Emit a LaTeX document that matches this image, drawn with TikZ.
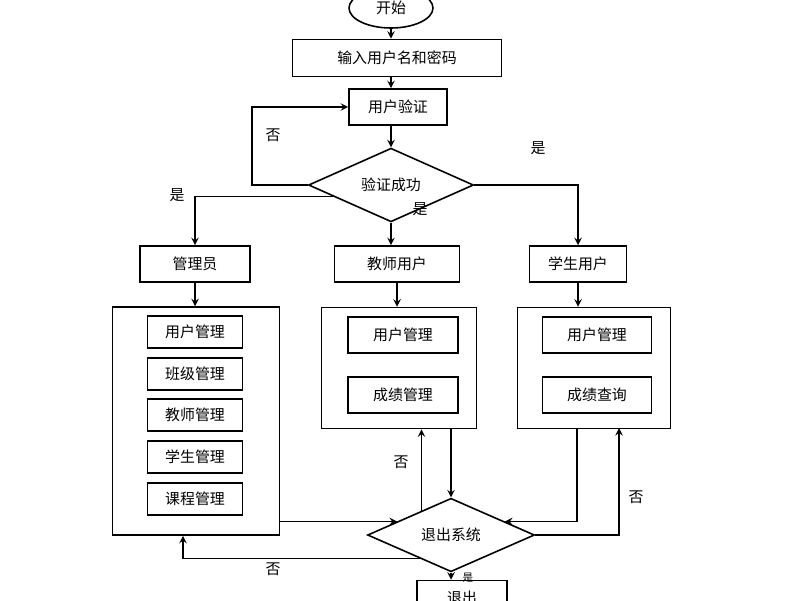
\documentclass[tikz,border=0pt]{standalone}
\usepackage{fontspec}
\setmainfont{Noto Sans CJK SC}
\usetikzlibrary{shapes.geometric, arrows, calc}
\tikzstyle{box} = [draw, rectangle, line width=0.9pt, inner sep=0pt, font=\fontsize{8.5}{10}\selectfont]
\tikzstyle{decision} = [draw, diamond, line width=0.9pt, inner sep=0pt, font=\fontsize{8.5}{10}\selectfont]
\tikzstyle{arrow} = [line width=0.9pt,->,>=stealth]
\tikzstyle{lbl} = [font=\fontsize{8.5}{10}\selectfont]

\begin{document}
\begin{tikzpicture}[x=0.02cm, y=-0.02cm, >=stealth]
            \useasboundingbox (0,0) rectangle (800,600);
            \node[draw, ellipse, line width=0.9pt, minimum width=1.68cm, minimum height=0.8cm, font=\fontsize{8.5}{10}\selectfont] (start) at (391,8) {开始};
            \node[box, minimum width=4.18cm, minimum height=0.74cm] (input) at (397,58) {输入用户名和密码};
            \node[box, minimum width=1.96cm, minimum height=0.72cm] (verify) at (398,107) {用户验证};
            \node[decision, minimum width=3.3cm, minimum height=1.44cm] (ok) at (391,185) {验证成功};
            
            \node[box, minimum width=2.2cm, minimum height=0.72cm] (admin) at (195,264) {管理员};
            \node[box, minimum width=2.5cm, minimum height=0.72cm] (teacher) at (397,264) {教师用户};
            \node[box, minimum width=1.94cm, minimum height=0.72cm] (student) at (578,264) {学生用户};
            
            \node[box, minimum width=3.34cm, minimum height=4.56cm] (adminbox) at (196,421) {};
            \node[box, minimum width=1.9cm, minimum height=0.64cm] (a1) at (195,332) {用户管理};
            \node[box, minimum width=1.9cm, minimum height=0.64cm] (a2) at (195,374) {班级管理};
            \node[box, minimum width=1.9cm, minimum height=0.64cm] (a3) at (195,415) {教师管理};
            \node[box, minimum width=1.9cm, minimum height=0.64cm] (a4) at (195,457) {学生管理};
            \node[box, minimum width=1.9cm, minimum height=0.64cm] (a5) at (195,499) {课程管理};
            
            \node[box, minimum width=3.1cm, minimum height=2.42cm] (teacherbox) at (399,368) {};
            \node[box, minimum width=2.2cm, minimum height=0.72cm] (t1) at (403,335) {用户管理};
            \node[box, minimum width=2.2cm, minimum height=0.72cm] (t2) at (403,395) {成绩管理};
            
            \node[box, minimum width=3.06cm, minimum height=2.42cm] (studentbox) at (594,368) {};
            \node[box, minimum width=2.18cm, minimum height=0.72cm] (s1) at (597,335) {用户管理};
            \node[box, minimum width=2.18cm, minimum height=0.72cm] (s2) at (597,395) {成绩查询};
            
            \node[decision, minimum width=3.34cm, minimum height=1.42cm] (quit) at (451,535) {退出系统};
            \node[box, minimum width=1.8cm, minimum height=0.7cm] (exit) at (462,598) {退出};
            
            \draw[arrow] (start.south) -- (start.south |- input.north);
            \draw[arrow] (input.south -| ok.north) -- (verify.north -| ok.north);
            \draw[arrow] (verify.south -| ok.north) -- (ok.north);
            \draw[arrow] (ok.west) -- (252,185) |- (verify.west);
            \node[lbl] at (273,135) {否};
            \coordinate (okl) at ($(ok.west)!0.3!(ok.south)$);
            \draw[arrow] (okl) -| (admin.north);
            \node[lbl] at (177,195) {是};
            \draw[arrow] (ok.south) -- (ok.south |- teacher.north);
            \node[lbl] at (420,209) {是};
            \draw[arrow] (ok.east) -| (student.north);
            \node[lbl] at (538,148) {是};
            
            \draw[arrow] (admin.south) -- (admin.south |- adminbox.north);
            \draw[arrow] (teacher.south) -- (teacher.south |- teacherbox.north);
            \draw[arrow] (student.south) -- (student.south |- studentbox.north);
            
            \coordinate (ql) at ($(quit.west)!0.36!(quit.north)$);
            \coordinate (qr) at ($(quit.east)!0.36!(quit.north)$);
            \coordinate (qt) at ($(quit.west)!0.65!(quit.north)$);
            \coordinate (qb) at ($(quit.west)!0.63!(quit.south)$);
            \draw[arrow] (adminbox.east |- ql) -- (ql);
            \draw[arrow] (teacherbox.south -| quit.north) -- (quit.north);
            \draw[arrow] (qt) -- (qt |- teacherbox.south);
            \node[lbl] at (401,462) {否};
            \draw[arrow] (577,428) |- (qr);
            \draw[arrow] (quit.east) -| (619,428);
            \node[lbl] at (636,497) {否};
            \draw[arrow] (qb) -| (adminbox.south -| 183,0);
            \node[lbl] at (273,569) {否};
            \draw[arrow] (quit.south) -- (quit.south |- exit.north);
            \node[font=\fontsize{6}{7}\selectfont] at (468,578) {是};
        \end{tikzpicture}
\end{document}
